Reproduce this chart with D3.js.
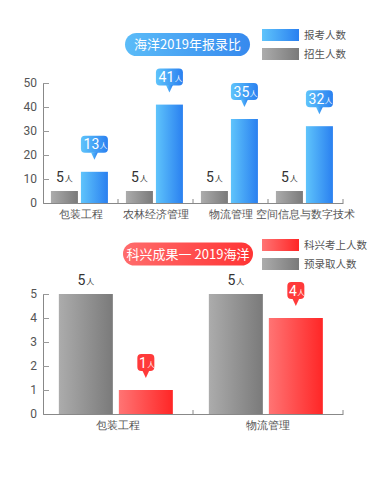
<!DOCTYPE html>
<html><head><meta charset="utf-8">
<script src="https://cdn.jsdelivr.net/npm/d3@7/dist/d3.min.js"></script>
<style>
html,body{margin:0;padding:0;background:#fff;}
svg{display:block;font-family:"Noto Sans CJK SC","Noto Sans",sans-serif;}
</style></head>
<body>
<svg id="c" width="375" height="480"></svg>
<script>
// ---- data ----
const cats1 = ["包装工程", "农林经济管理", "物流管理", "空间信息与数字技术"];
const admitted1 = [5, 5, 5, 5];       // 招生人数
const applicants1 = [13, 41, 35, 32]; // 报考人数
const yTicks1 = [0, 10, 20, 30, 40, 50];
const title1 = "海洋2019年报录比";
const legend1 = ["报考人数", "招生人数"];

const cats2 = ["包装工程", "物流管理"];
const preAdmit2 = [5, 5];   // 预录取人数
const passed2 = [1, 4];     // 科兴考上人数
const yTicks2 = [0, 1, 2, 3, 4, 5];
const title2 = "科兴成果一 2019海洋";
const legend2 = ["科兴考上人数", "预录取人数"];
const unit = "人";

const svg = d3.select("#c");
const defs = svg.append("defs");
function grad(id, c1, c2) {
  const g = defs.append("linearGradient").attr("id", id).attr("x1", "0%").attr("x2", "100%").attr("y1", "0%").attr("y2", "0%");
  g.append("stop").attr("offset", "0%").attr("stop-color", c1);
  g.append("stop").attr("offset", "100%").attr("stop-color", c2);
}
grad("gBlue", "#5fc4fb", "#2a80f0");
grad("gGray", "#acacac", "#7a7a7a");
grad("gRed", "#ff7474", "#ff2626");
grad("gPillBlue", "#5bbcf8", "#3689ee");
grad("gPillRed", "#ff6c6c", "#ff3434");

const numFont = "Roboto, 'Noto Sans', sans-serif";

function pill(cx, cy, w, h, fill, text) {
  svg.append("rect").attr("x", cx - w / 2).attr("y", cy - h / 2).attr("width", w).attr("height", h)
    .attr("rx", h / 2).attr("fill", fill);
  svg.append("text").attr("x", cx).attr("y", cy + 4.5).attr("text-anchor", "middle")
    .attr("fill", "#fff").attr("font-size", 13).text(text);
}
function legend(x, y, items, fills) {
  items.forEach((t, i) => {
    svg.append("rect").attr("x", x).attr("y", y + i * 19).attr("width", 37).attr("height", 12).attr("fill", fills[i]);
    svg.append("text").attr("x", x + 42).attr("y", y + i * 19 + 10).attr("font-size", 10.5)
      .attr("fill", "#555").text(t);
  });
}
function valueLabel(g, cx, yTop, v, color) {
  const t = g.append("text").attr("x", cx).attr("y", yTop).attr("text-anchor", "middle").attr("fill", color);
  t.append("tspan").attr("font-size", 14).attr("font-family", numFont).text(v);
  t.append("tspan").attr("font-size", 8).attr("dx", 1).text(unit);
}
function callout(g, cx, barTop, v, fill) {
  const digits = String(v).length;
  const w = digits > 1 ? 27 : 17, h = 17;
  const tipY = barTop - 12, rectB = tipY - 7, rectT = rectB - h;
  g.append("rect").attr("x", cx - w / 2).attr("y", rectT).attr("width", w).attr("height", h).attr("rx", 4).attr("fill", fill);
  g.append("path").attr("d", `M${cx - 3.5},${rectB - 0.5}L${cx + 3.5},${rectB - 0.5}L${cx},${tipY}Z`).attr("fill", fill);
  const t = g.append("text").attr("x", cx + 1).attr("y", rectB - 3.5).attr("text-anchor", "middle").attr("fill", "#fff");
  t.append("tspan").attr("font-size", 14).attr("font-family", numFont).text(v);
  t.append("tspan").attr("font-size", 7.5).attr("dx", 0.5).text(unit);
}

function chart(opts) {
  const { cats, grayVals, colVals, ticks, x0, x1, y0, y1, colFill, calloutFill, ymax } = opts;
  const g = svg.append("g");
  const x = d3.scaleBand().domain(cats).range([x0, x1]).padding(0);
  const y = d3.scaleLinear().domain([0, ymax]).range([y0, y1]);
  const sub = d3.scaleBand().domain(["gray", "col"]).range([0, x.bandwidth()])
    .paddingInner(0.1).paddingOuter(0.3).align(0.44);

  // axes
  const yAxis = d3.axisLeft(y).tickValues(ticks).tickFormat(d3.format("d")).tickSize(0).tickPadding(6);
  const ya = g.append("g").attr("transform", `translate(${x0},0)`).call(yAxis);
  ya.select(".domain").attr("stroke", "#888");
  ya.selectAll(".tick text").attr("font-size", 12).attr("fill", "#555").attr("font-family", numFont);
  ya.selectAll(".tick").append("line").attr("x1", 0).attr("x2", 6).attr("stroke", "#999");

  const xAxis = d3.axisBottom(x).tickSize(0).tickPadding(8);
  const xa = g.append("g").attr("transform", `translate(0,${y0})`).call(xAxis);
  xa.select(".domain").attr("stroke", "#888");
  xa.selectAll(".tick text").attr("font-size", 10.5).attr("fill", "#555");
  const bounds = cats.map(c => x(c) + x.bandwidth());
  xa.selectAll(".bnd").data(bounds).join("line").attr("class", "bnd")
    .attr("x1", d => d).attr("x2", d => d).attr("y1", 0).attr("y2", -4).attr("stroke", "#888");

  // bars
  cats.forEach((c, i) => {
    const gx = x(c) + sub("gray"), cx = x(c) + sub("col"), bw = sub.bandwidth();
    g.append("rect").attr("x", gx).attr("y", y(grayVals[i])).attr("width", bw)
      .attr("height", y0 - y(grayVals[i])).attr("fill", "url(#gGray)");
    g.append("rect").attr("x", cx).attr("y", y(colVals[i])).attr("width", bw)
      .attr("height", y0 - y(colVals[i])).attr("fill", colFill);
    valueLabel(g, gx + bw / 2, y(grayVals[i]) - 9, grayVals[i], "#333");
    callout(g, cx + bw / 2, y(colVals[i]), colVals[i], calloutFill);
  });
}

pill(187.5, 44.5, 125, 23, "url(#gPillBlue)", title1);
legend(262, 29, legend1, ["url(#gBlue)", "url(#gGray)"]);
chart({ cats: cats1, grayVals: admitted1, colVals: applicants1, ticks: yTicks1,
  x0: 43, x1: 343, y0: 203, y1: 83, ymax: 50, colFill: "url(#gBlue)", calloutFill: "url(#gBlue)" });

pill(188, 254, 130, 23, "url(#gPillRed)", title2);
legend(262, 239, legend2, ["url(#gRed)", "url(#gGray)"]);
chart({ cats: cats2, grayVals: preAdmit2, colVals: passed2, ticks: yTicks2,
  x0: 43, x1: 343, y0: 414, y1: 294, ymax: 5, colFill: "url(#gRed)", calloutFill: "#ff3a3a" });
</script>
</body></html>
